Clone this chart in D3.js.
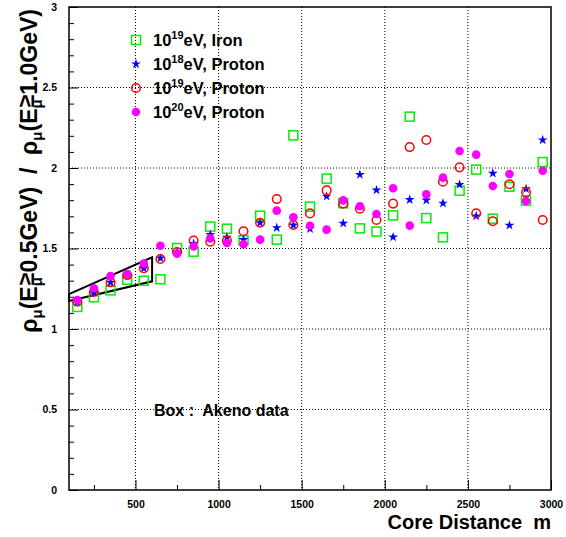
<!DOCTYPE html>
<html>
<head>
<meta charset="utf-8">
<script src="https://cdn.jsdelivr.net/npm/d3@7"></script>
<style>
  html, body { margin: 0; padding: 0; background: #fff; }
  svg { display: block; }
  text { font-family: "Liberation Sans", Arial, sans-serif; font-weight: bold; }
</style>
</head>
<body>
<svg id="chart" width="566" height="537"></svg>
<script>
// data ------------------------------------------------------------
const distances = [150, 250, 350, 450, 550, 650, 750, 850, 950, 1050, 1150, 1250, 1350, 1450, 1550,
  1650, 1750, 1850, 1950, 2050, 2150, 2250, 2350, 2450, 2550, 2650, 2750, 2850, 2950];

const iron19 = [1.137, 1.197, 1.24, 1.306, 1.30, 1.309, 1.503, 1.48, 1.636, 1.623, 1.551, 1.704, 1.555, 2.203, 1.76,
  1.934, 1.781, 1.625, 1.605, 1.706, 2.319, 1.689, 1.569, 1.859, 1.99, 1.685, 1.884, 1.797, 2.037];
const proton18 = [1.166, 1.226, 1.29, 1.335, 1.377, 1.44, 1.475, 1.53, 1.586, 1.569, 1.555, 1.66, 1.629, 1.645, 1.623,
  1.824, 1.656, 1.959, 1.863, 1.571, 1.803, 1.80, 1.781, 1.897, 1.702, 1.967, 1.644, 1.87, 2.174];
const proton19 = [1.17, 1.23, 1.29, 1.335, 1.377, 1.435, 1.478, 1.549, 1.542, 1.549, 1.607, 1.66, 1.807, 1.646, 1.718,
  1.861, 1.779, 1.747, 1.677, 1.779, 2.13, 2.174, 1.915, 2.004, 1.718, 1.669, 1.899, 1.849, 1.677];
const proton20 = [1.18, 1.253, 1.329, 1.34, 1.406, 1.517, 1.468, 1.513, 1.563, 1.534, 1.526, 1.555, 1.735, 1.694, 1.641,
  1.617, 1.799, 1.762, 1.714, 1.874, 1.642, 1.836, 1.94, 2.106, 2.083, 1.888, 1.963, 1.795, 1.983];

// Akeno box (corners)
const akenoBox = [[100, 1.174], [600, 1.296], [600, 1.445], [100, 1.217]];

const xTicks = [500, 1000, 1500, 2000, 2500, 3000];
const yTicks = [0, 0.5, 1, 1.5, 2, 2.5, 3];

const series = [
  { exp: "19", label: "eV, Iron", values: iron19, kind: "square", color: "#00ee00" },
  { exp: "18", label: "eV, Proton", values: proton18, kind: "star", color: "#0000ff" },
  { exp: "19", label: "eV, Proton", values: proton19, kind: "ring", color: "#ff0000" },
  { exp: "20", label: "eV, Proton", values: proton20, kind: "dot", color: "#ff00ff" }
];

// skala -----------------------------------------------------------
const svg = d3.select("#chart");
const pLeft = 69, pRight = 551, pTop = 7, pBottom = 490;
const x = d3.scaleLinear().domain([100, 3000]).range([pLeft, pRight]);
const y = d3.scaleLinear().domain([0, 3]).range([pBottom, pTop]);

// grid
const grid = svg.append("g").attr("stroke", "#000").attr("stroke-width", 1).attr("stroke-dasharray", "1,2");
grid.selectAll("line.v").data(xTicks.slice(0, -1)).join("line")
  .attr("x1", d => x(d)).attr("x2", d => x(d)).attr("y1", pTop).attr("y2", pBottom);
grid.selectAll("line.h").data(yTicks.slice(1, -1)).join("line")
  .attr("x1", pLeft).attr("x2", pRight).attr("y1", d => y(d)).attr("y2", d => y(d));

// osi (ticks dovnutra ako v ROOT)
const xAxis = d3.axisBottom(x).tickValues(xTicks).tickSize(-10).tickFormat(d3.format("d")).tickPadding(11);
const gx = svg.append("g").attr("transform", `translate(0,${pBottom})`).call(xAxis);
gx.select(".domain").remove();
gx.selectAll("text").attr("font-size", 10.5).attr("font-family", null);

const xMinor = d3.axisBottom(x).tickValues([250, 750, 1250, 1750, 2250, 2750]).tickSize(-5).tickFormat("");
svg.append("g").attr("transform", `translate(0,${pBottom})`).call(xMinor).select(".domain").remove();

const yAxis = d3.axisLeft(y).tickValues(yTicks).tickSize(-9).tickFormat(d => d).tickPadding(12);
const gy = svg.append("g").attr("transform", `translate(${pLeft},0)`).call(yAxis);
gy.select(".domain").remove();
gy.selectAll("text").attr("font-size", 10.5).attr("font-family", null);

const yMinor = d3.axisLeft(y).tickValues(d3.range(1, 30).filter(i => i % 5 !== 0).map(i => i / 10)).tickSize(-5).tickFormat("");
svg.append("g").attr("transform", `translate(${pLeft},0)`).call(yMinor).select(".domain").remove();

// ramik
svg.append("rect").attr("x", pLeft).attr("y", pTop).attr("width", pRight - pLeft).attr("height", pBottom - pTop)
  .attr("fill", "none").attr("stroke", "#000").attr("stroke-width", 1.5);

// Akeno box
svg.append("path")
  .attr("d", d3.line().x(d => x(d[0])).y(d => y(d[1]))(akenoBox) + "Z")
  .attr("fill", "none").attr("stroke", "#000").attr("stroke-width", 2);

// markery
function drawMarker(g, kind, color) {
  if (kind === "square") {
    g.append("rect").attr("x", -4.5).attr("y", -4.5).attr("width", 9).attr("height", 9)
      .attr("fill", "none").attr("stroke", color).attr("stroke-width", 1.5);
  } else if (kind === "star") {
    g.append("path").attr("d", d3.symbol(d3.symbolStar, 30)()).attr("fill", color);
  } else if (kind === "ring") {
    g.append("circle").attr("r", 4.3).attr("fill", "none").attr("stroke", color).attr("stroke-width", 1.5);
  } else {
    g.append("circle").attr("r", 4.3).attr("fill", color);
  }
}

series.forEach(s => {
  const g = svg.append("g");
  s.values.forEach((v, i) => {
    const m = g.append("g").attr("transform", `translate(${x(distances[i])},${y(v)})`);
    drawMarker(m, s.kind, s.color);
  });
});

// legenda
const legY = [40, 64, 88, 112];
series.forEach((s, i) => {
  const m = svg.append("g").attr("transform", `translate(136,${legY[i]})`);
  drawMarker(m, s.kind, s.color);
  const t = svg.append("text").attr("x", 153).attr("y", legY[i] + 6).attr("font-size", 16.5);
  t.append("tspan").text("10");
  t.append("tspan").attr("dy", -7).attr("font-size", 11).text(s.exp);
  t.append("tspan").attr("dy", 7).text(s.label);
});

svg.append("text").attr("x", 154).attr("y", 416).attr("font-size", 16)
  .attr("xml:space", "preserve").text("Box :  Akeno data");

// popisy osi
svg.append("text").attr("x", pRight).attr("y", 529).attr("text-anchor", "end").attr("font-size", 20)
  .attr("xml:space", "preserve").text("Core Distance  m");

const yt = svg.append("text").attr("transform", `translate(37,${pTop + 2}) rotate(-90)`)
  .attr("text-anchor", "end").attr("font-size", 23);
function rhoPart(energy) {
  yt.append("tspan").text("ρ");
  yt.append("tspan").attr("dy", 5).attr("font-size", 15).text("μ");
  yt.append("tspan").attr("dy", -5).text("(E");
  yt.append("tspan").attr("dy", 5).attr("font-size", 15).text("μ");
  yt.append("tspan").attr("dx", -8).attr("dy", -8).text("≥");
  yt.append("tspan").attr("dy", 3).text(energy + "GeV)");
}
rhoPart("0.5");
yt.append("tspan").attr("xml:space", "preserve").text("  /  ");
rhoPart("1.0");
</script>
</body>
</html>
